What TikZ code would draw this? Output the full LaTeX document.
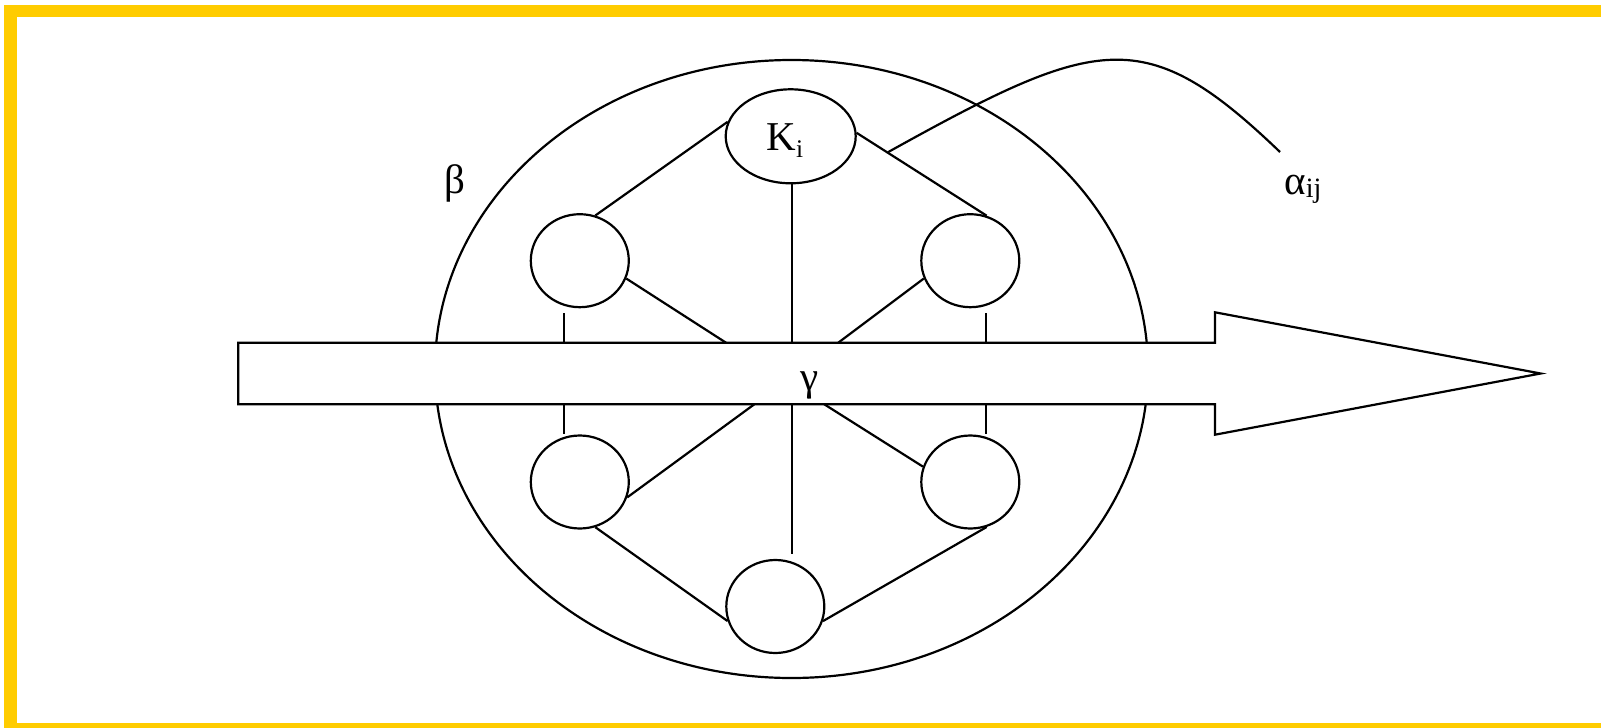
\documentclass[tikz,border=0pt]{standalone}
\usepackage{fontspec}
\setmainfont{Liberation Serif}
\usetikzlibrary{shapes.geometric}
\definecolor{frameyellow}{HTML}{FFCC00}
\newcommand\lowsub[3]{\raisebox{-#2}{\fontsize{#1}{14pt}\selectfont #3}}
\begin{document}
\begin{tikzpicture}[x=0.5pt,y=-0.5pt,
  conn/.style={line width=1.1pt},
  bubble/.style={ellipse, draw, line width=1.1pt, inner sep=0pt, minimum width=49pt, minimum height=46.5pt},
  lbl/.style={font=\fontsize{20.5pt}{24pt}\selectfont, inner sep=0pt},
  frame/.style={draw=frameyellow, line width=6.3pt}]
\useasboundingbox (0,0) rectangle (1601,728);
\clip (0,0) rectangle (1601,728);
\draw[frame] (10.4,10.8) rectangle (1630,729);

% outer region
\node[draw, ellipse, line width=1.1pt, inner sep=0pt, minimum width=356.5pt, minimum height=309pt] (outer) at (791.5,369) {};

% big arrow
\draw[conn, fill=white] (238.3,342.7) -- (1215,342.7) -- (1215,312.3) -- (1540.7,373.5) coordinate (tip)
  -- (1215,434.7) -- (1215,404.3) -- (238.3,404.3) -- cycle;
\coordinate (t1) at (564,342.7);
\coordinate (t2) at (726,342.7);
\coordinate (t3) at (791.7,342.7);
\coordinate (t4) at (838.3,342.7);
\coordinate (t5) at (986,342.7);
\coordinate (b1) at (564,404.3);
\coordinate (b2) at (754.3,404.3);
\coordinate (b3) at (791.7,404.3);
\coordinate (b4) at (824.3,404.3);
\coordinate (b5) at (986,404.3);

% nodes
\node[bubble, minimum width=65pt, minimum height=47pt] (K) at (790.7,136.3) {};
\node[lbl, anchor=base west] (Klbl) at (766,150.7) {K\lowsub{12.7pt}{3.3pt}{i}};
\node[bubble] (ul) at (579.8,260.7) {};
\node[bubble] (ur) at (970.3,260.7) {};
\node[bubble] (ll) at (579.8,482) {};
\node[bubble] (lr) at (970.3,482) {};
\node[bubble] (bc) at (775.3,606.5) {};

% connectors
\draw[conn] (ul.71.5) -- (K.167.1);
\draw[conn] (K.3.1) -- (ur.70);
\draw[conn] (t3 |- K.south) -- (t3);
\draw[conn] (ul.-21.7) -- (t2);
\draw[conn] (ur.201.9) -- (t4);
\draw[conn, shorten >=2.2pt] (t1) -- (t1 |- ul.south);
\draw[conn, shorten >=2.2pt] (t5) -- (t5 |- ur.south);
\draw[conn] (b1) -- (b1 |- ll.north);
\draw[conn] (b5) -- (b5 |- lr.north);
\draw[conn, shorten >=2.3pt] (b3) -- (b3 |- bc.north);
\draw[conn] (ll.-18.6) -- (b2);
\draw[conn] (lr.162.2) -- (b4);
\draw[conn] (ll.-71.6) -- (bc.197.4);
\draw[conn] (bc.-17.3) -- (lr.-70.1);

% alpha curve
\coordinate (a0) at (888.3,152);
\coordinate (a1) at (1280,152);
\draw[conn] (a0) .. controls (1098,35.6) and (1145,22.4) .. (a1);

% labels
\node[lbl, anchor=base west] (beta) at (444,193) {β};
\node[lbl, anchor=base west] (alpha) at (1284,194) {α\lowsub{14pt}{1.6pt}{ij}};
\node[lbl, anchor=base] (gamma) at (810,390) {γ};
\end{tikzpicture}
\end{document}
